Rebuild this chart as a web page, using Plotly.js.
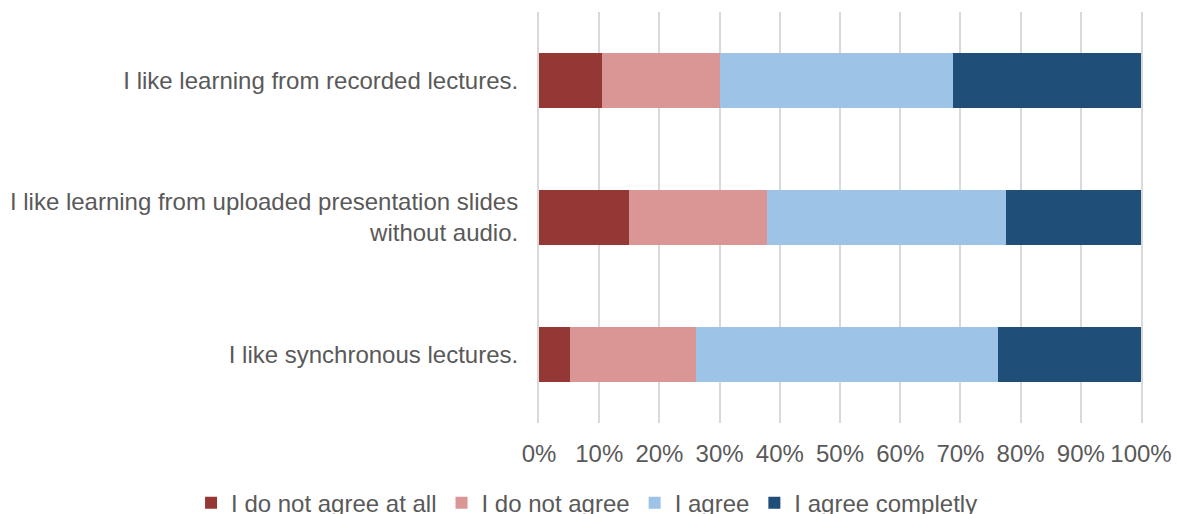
<!DOCTYPE html>
<html>
<head>
<meta charset="utf-8">
<script src="https://cdn.plot.ly/plotly-3.0.1.min.js"></script>
<style>html,body{margin:0;padding:0;background:#fff;}#chart{width:1177px;height:514px;}</style>
</head>
<body>
<div id="chart"></div>
<script>
const categories = [
  "I like synchronous lectures.",
  "I like learning from uploaded presentation slides<br>without audio.",
  "I like learning from recorded lectures."
];
const seriesNames = ["I do not agree at all", "I do not agree", "I agree", "I agree completly"];
const notAtAll   = [5.2, 14.9, 10.5];
const notAgree   = [20.8, 22.9, 19.5];
const agree      = [50.3, 39.8, 38.8];
const completely = [23.7, 22.4, 31.2];
const tickVals   = [0, 10, 20, 30, 40, 50, 60, 70, 80, 90, 100];
const tickText   = ["0%", "10%", "20%", "30%", "40%", "50%", "60%", "70%", "80%", "90%", "100%"];

const colors = ["#953735", "#D99694", "#9DC3E6", "#1F4E79"];
const values = [notAtAll, notAgree, agree, completely];

const traces = values.map((v, i) => ({
  type: "bar",
  orientation: "h",
  name: seriesNames[i],
  x: v,
  y: categories,
  marker: {color: colors[i], line: {width: 0}},
  hoverinfo: "x+name"
}));

const font = {family: "Liberation Sans, Arial, sans-serif", size: 24, color: "#595959"};

const layout = {
  width: 1177, height: 514,
  barmode: "stack",
  bargap: 0.6,
  paper_bgcolor: "#fff",
  plot_bgcolor: "#fff",
  font: font,
  margin: {l: 539, r: 36, t: 12, b: 91, pad: 0, autoexpand: false},
  xaxis: {
    range: [0, 100],
    tickvals: tickVals,
    ticktext: tickText,
    showgrid: true,
    gridcolor: "#D9D9D9",
    gridwidth: 2,
    zeroline: false,
    showline: false,
    ticks: "",
    ticklabelstandoff: 14,
    fixedrange: true,
    tickfont: font,
    layer: "below traces"
  },
  yaxis: {
    showgrid: false,
    zeroline: false,
    showline: true,
    mirror: true,
    linecolor: "#D9D9D9",
    linewidth: 2,
    layer: "below traces",
    ticks: "",
    ticklabelstandoff: 14,
    tickfont: font,
    fixedrange: true
  },
  showlegend: true,
  legend: {
    orientation: "h",
    xref: "paper",
    yref: "paper",
    x: -0.578,
    xanchor: "left",
    y: -0.195,
    yanchor: "middle",
    font: font,
    traceorder: "normal",
    bgcolor: "rgba(0,0,0,0)"
  }
};

Plotly.newPlot("chart", traces, layout, {displayModeBar: false, staticPlot: true});
</script>
</body>
</html>
